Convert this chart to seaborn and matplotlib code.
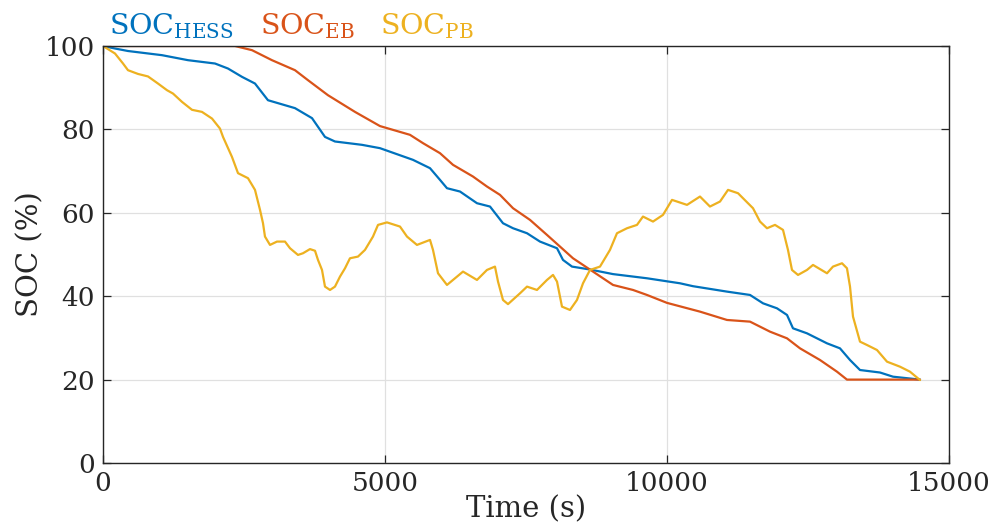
import matplotlib
matplotlib.use("Agg")
import matplotlib.pyplot as plt
import seaborn as sns
import pandas as pd

# SOC traces (time in s, SOC in %)
hess_t = [0, 213, 443, 1046, 1507, 1986, 2216, 2465, 2695, 2925, 3404, 3706, 3936, 4113,
          4592, 4911, 5496, 5798, 5975, 6099, 6330, 6631, 6862, 7092, 7270, 7518, 7748,
          8050, 8156, 8316, 8635, 9043, 9645, 10230, 10461, 11064, 11472, 11702, 11950,
          12128, 12234, 12482, 12837, 13067, 13245, 13422, 13777, 14007, 14486]
hess_soc = [100, 99.4, 98.8, 97.8, 96.6, 95.8, 94.6, 92.6, 91.0, 87.0, 85.1, 82.7, 78.2, 77.1,
            76.3, 75.5, 72.7, 70.7, 67.9, 65.9, 65.1, 62.3, 61.5, 57.5, 56.3, 55.1, 53.1,
            51.5, 48.7, 47.1, 46.4, 45.3, 44.3, 43.1, 42.4, 41.1, 40.3, 38.3, 37.1,
            35.5, 32.3, 31.1, 28.7, 27.5, 24.7, 22.3, 21.7, 20.7, 20.0]

eb_t = [0, 2340, 2642, 2996, 3404, 3635, 3989, 4468, 4911, 5443, 5674, 5975, 6206, 6560,
        6808, 7039, 7270, 7571, 7872, 8103, 8333, 8688, 9043, 9397, 9645, 10000, 10585,
        11064, 11472, 11826, 12128, 12358, 12713, 13014, 13191, 14486]
eb_soc = [100, 100, 99, 96.6, 94.2, 91.8, 88.2, 84.2, 80.8, 78.7, 76.7, 74.3, 71.5, 68.7,
          66.3, 64.3, 61.1, 58.3, 54.7, 51.9, 49.1, 45.9, 42.7, 41.5, 40.3, 38.4, 36.3,
          34.3, 33.9, 31.5, 29.9, 27.5, 24.7, 21.9, 20.0, 20.0]

pb_t = [0, 71, 213, 355, 443, 621, 798, 975, 1135, 1241, 1401, 1578, 1755, 1933, 2074,
        2128, 2287, 2394, 2571, 2695, 2784, 2837, 2872, 2961, 3085, 3227, 3316, 3457,
        3546, 3670, 3759, 3812, 3883, 3936, 4025, 4113, 4202, 4291, 4379, 4521, 4645,
        4787, 4876, 5035, 5266, 5390, 5567, 5798, 5851, 5940, 6099, 6277, 6383, 6631,
        6808, 6950, 7004, 7092, 7181, 7394, 7518, 7695, 7872, 7979, 8050, 8138, 8280,
        8404, 8511, 8635, 8812, 8989, 9113, 9291, 9468, 9574, 9752, 9929, 10089, 10355,
        10585, 10762, 10940, 11082, 11259, 11436, 11525, 11649, 11773, 11915, 12057,
        12145, 12216, 12323, 12482, 12589, 12837, 12943, 13103, 13191, 13245, 13298,
        13422, 13546, 13723, 13901, 14131, 14308, 14486]
pb_soc = [100, 99.4, 98.2, 95.8, 94.2, 93.3, 92.7, 91.0, 89.4, 88.6, 86.6, 84.7, 84.2, 82.6, 80.2,
          78.2, 73.4, 69.5, 68.3, 65.5, 60.7, 57.5, 54.3, 52.3, 53.1, 53.1, 51.5, 49.9,
          50.3, 51.3, 50.9, 48.7, 46.3, 42.3, 41.5, 42.3, 44.7, 46.7, 49.1, 49.5, 51.1,
          54.3, 57.1, 57.7, 56.7, 54.3, 52.3, 53.5, 51.1, 45.5, 42.7, 44.7, 45.9, 43.9,
          46.3, 47.1, 43.5, 39.1, 38.1, 40.7, 42.3, 41.5, 43.9, 45.1, 43.5, 37.5, 36.7,
          39.1, 43.1, 46.3, 47.1, 51.1, 55.1, 56.3, 57.1, 59.1, 57.9, 59.5, 63.1, 61.9,
          63.9, 61.5, 62.7, 65.5, 64.7, 62.3, 61.1, 57.9, 56.3, 57.1, 55.9,
          51.1, 46.3, 45.1, 46.3, 47.5, 45.5, 47.1, 47.9, 46.7, 42.3, 35.1,
          29.1, 28.3, 27.1, 24.3, 23.1, 21.9, 19.9]

labels = [r"SOC$_{\rm HESS}$", r"SOC$_{\rm EB}$", r"SOC$_{\rm PB}$"]
colors = ["#0072BD", "#D95319", "#EDB120"]

frames = []
for lab, t, v in zip(labels, [hess_t, eb_t, pb_t], [hess_soc, eb_soc, pb_soc]):
    frames.append(pd.DataFrame({"time": t, "soc": v, "series": lab}))
df = pd.concat(frames, ignore_index=True)

sns.set_theme(style="whitegrid")
plt.rcParams["font.family"] = ["DejaVu Serif"]
plt.rcParams["mathtext.fontset"] = "dejavuserif"

fig = plt.figure(figsize=(9.98, 5.30), dpi=100)
ax = fig.add_axes([0.1032, 0.1264, 0.8477, 0.7868])

sns.lineplot(data=df, x="time", y="soc", hue="series", hue_order=labels,
             palette=dict(zip(labels, colors)), estimator=None, linewidth=1.6, ax=ax)

ax.set_xlim(0, 15000)
ax.set_ylim(0, 100)
ax.set_xticks([0, 5000, 10000, 15000])
ax.set_yticks([0, 20, 40, 60, 80, 100])
ax.grid(True, color="#e0e0e0", linewidth=0.9)
ax.set_axisbelow(True)
for s in ax.spines.values():
    s.set_visible(True)
    s.set_color("#262626")
    s.set_linewidth(1.0)
ax.tick_params(direction="in", length=6, width=0.9, top=True, right=True,
               bottom=True, left=True, labelsize=19, colors="#262626", pad=6)
ax.set_xlabel("Time (s)", fontsize=21, color="#262626", labelpad=-1)
ax.set_ylabel("SOC (%)", fontsize=21, color="#262626", labelpad=0)

leg = ax.legend(ncol=3, loc="lower left", bbox_to_anchor=(-0.006, 0.985), frameon=False,
                handlelength=0, handletextpad=0, columnspacing=0.9, fontsize=20.5,
                labelcolor="linecolor", borderaxespad=0)
for h in leg.legend_handles:
    h.set_visible(False)

fig.savefig("out.png", dpi=100)
